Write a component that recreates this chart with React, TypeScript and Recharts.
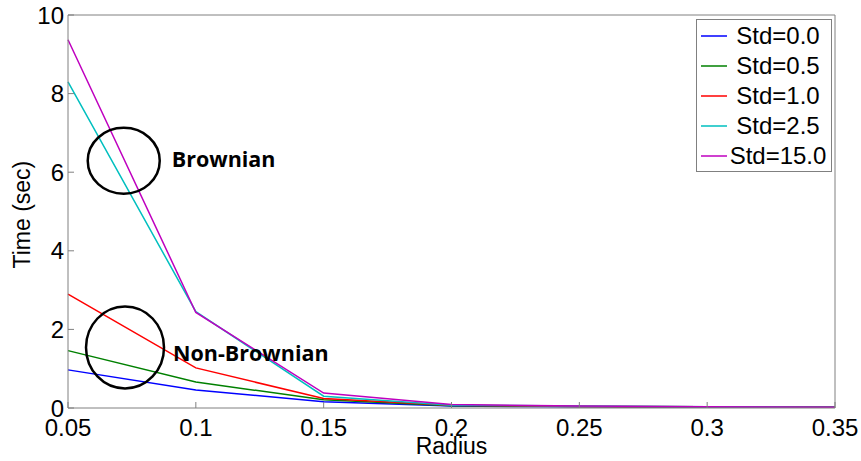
import React from 'react';
import { LineChart, Line, XAxis, YAxis, ReferenceDot } from 'recharts';

const radius = [0.05, 0.1, 0.15, 0.2, 0.25, 0.3, 0.35];
const std00 = [0.97, 0.46, 0.16, 0.05, 0.03, 0.02, 0.02];
const std05 = [1.46, 0.66, 0.21, 0.06, 0.04, 0.03, 0.02];
const std10 = [2.9, 1.02, 0.24, 0.07, 0.04, 0.03, 0.02];
const std25 = [8.3, 2.45, 0.3, 0.07, 0.05, 0.03, 0.02];
const std150 = [9.37, 2.43, 0.38, 0.09, 0.05, 0.03, 0.02];

const xTicks = [0.05, 0.1, 0.15, 0.2, 0.25, 0.3, 0.35];
const yTicks = [0, 2, 4, 6, 8, 10];

const series = [
  { key: 'std00', name: 'Std=0.0', color: '#0000ff', values: std00 },
  { key: 'std05', name: 'Std=0.5', color: '#008000', values: std05 },
  { key: 'std10', name: 'Std=1.0', color: '#ff0000', values: std10 },
  { key: 'std25', name: 'Std=2.5', color: '#00bfbf', values: std25 },
  { key: 'std150', name: 'Std=15.0', color: '#bf00bf', values: std150 },
];

// annotation ellipses, in data coordinates
const notes = [
  { label: 'Brownian', x: 0.0718, y: 6.29, rx: 36, ry: 33, textDy: -1 },
  { label: 'Non-Brownian', x: 0.0723, y: 1.54, rx: 39, ry: 41, textDy: 6 },
];

const data = radius.map((r, i) => {
  const row: any = { r };
  series.forEach(s => { row[s.key] = s.values[i]; });
  return row;
});

const AXIS = '#808080';
const FONT = 'Liberation Sans, Arial, sans-serif';

// legend drawn over the plot (MATLAB-style box in the corner)
const LegendBox = () => (
  <div style={{ position: 'absolute', left: 696, top: 19, width: 134, padding: '1px 0 0 0', border: `1px solid ${AXIS}`, background: '#fff', fontFamily: FONT, fontSize: 24, lineHeight: '30px' }}>
    {series.map(s => (
      <div key={s.key} style={{ display: 'flex', alignItems: 'center', height: 30 }}>
        <svg width={34} height={30} style={{ flex: 'none' }}>
          <line x1={4} x2={30} y1={15} y2={15} stroke={s.color} strokeWidth={1.5} />
        </svg>
        <span style={{ flex: 1, textAlign: 'center', marginLeft: -6, color: '#000', whiteSpace: 'nowrap' }}>{s.name}</span>
      </div>
    ))}
  </div>
);

const Note = (props: any) => {
  const { cx, cy, note } = props;
  return (
    <g>
      <ellipse cx={cx} cy={cy} rx={note.rx} ry={note.ry} fill="none" stroke="#000" strokeWidth={2.5} />
      <text x={cx + 48} y={cy + note.textDy} dy="0.35em" fontFamily="Open Sans, sans-serif" fontWeight={700} fontSize={21.5} fill="#000">
        {note.label}
      </text>
    </g>
  );
};

export default function App() {
  return (
    <div style={{ position: 'absolute', left: 0, top: 0, width: 861, height: 461, background: '#fff' }}>
      <LineChart width={861} height={461} data={data} margin={{ top: 0, right: 0, bottom: 0, left: 8 }}>
        <XAxis
          dataKey="r"
          type="number"
          domain={[0.05, 0.35]}
          ticks={xTicks}
          interval={0}
          height={53}
          stroke={AXIS}
          tickSize={-6}
          tickMargin={17}
          tick={{ fill: '#000', fontSize: 24, fontFamily: FONT }}
          label={{ value: 'Radius', position: 'insideBottom', offset: 7, fill: '#000', fontSize: 23, fontFamily: FONT }}
        />
        <XAxis
          xAxisId="top"
          orientation="top"
          dataKey="r"
          type="number"
          domain={[0.05, 0.35]}
          ticks={xTicks}
          interval={0}
          height={15}
          stroke={AXIS}
          tickSize={-6}
          tick={false}
        />
        <YAxis
          domain={[0, 10]}
          ticks={yTicks}
          interval={0}
          width={60}
          stroke={AXIS}
          tickSize={-6}
          tickMargin={10}
          tick={{ fill: '#000', fontSize: 24, fontFamily: FONT }}
          label={{ value: 'Time (sec)', angle: -90, position: 'insideLeft', offset: 14, dy: 57, fill: '#000', fontSize: 23, fontFamily: FONT }}
        />
        <YAxis
          yAxisId="right"
          orientation="right"
          domain={[0, 10]}
          ticks={yTicks}
          width={26}
          stroke={AXIS}
          tickSize={-6}
          tick={false}
        />
        {series.map(s => (
          <Line
            key={s.key}
            dataKey={s.key}
            name={s.name}
            stroke={s.color}
            strokeWidth={1.5}
            dot={false}
            type="linear"
            isAnimationActive={false}
          />
        ))}
        {notes.map(n => (
          <ReferenceDot key={n.label} x={n.x} y={n.y} r={1} shape={(p: any) => <Note {...p} note={n} />} />
        ))}
      </LineChart>
      <LegendBox />
    </div>
  );
}
